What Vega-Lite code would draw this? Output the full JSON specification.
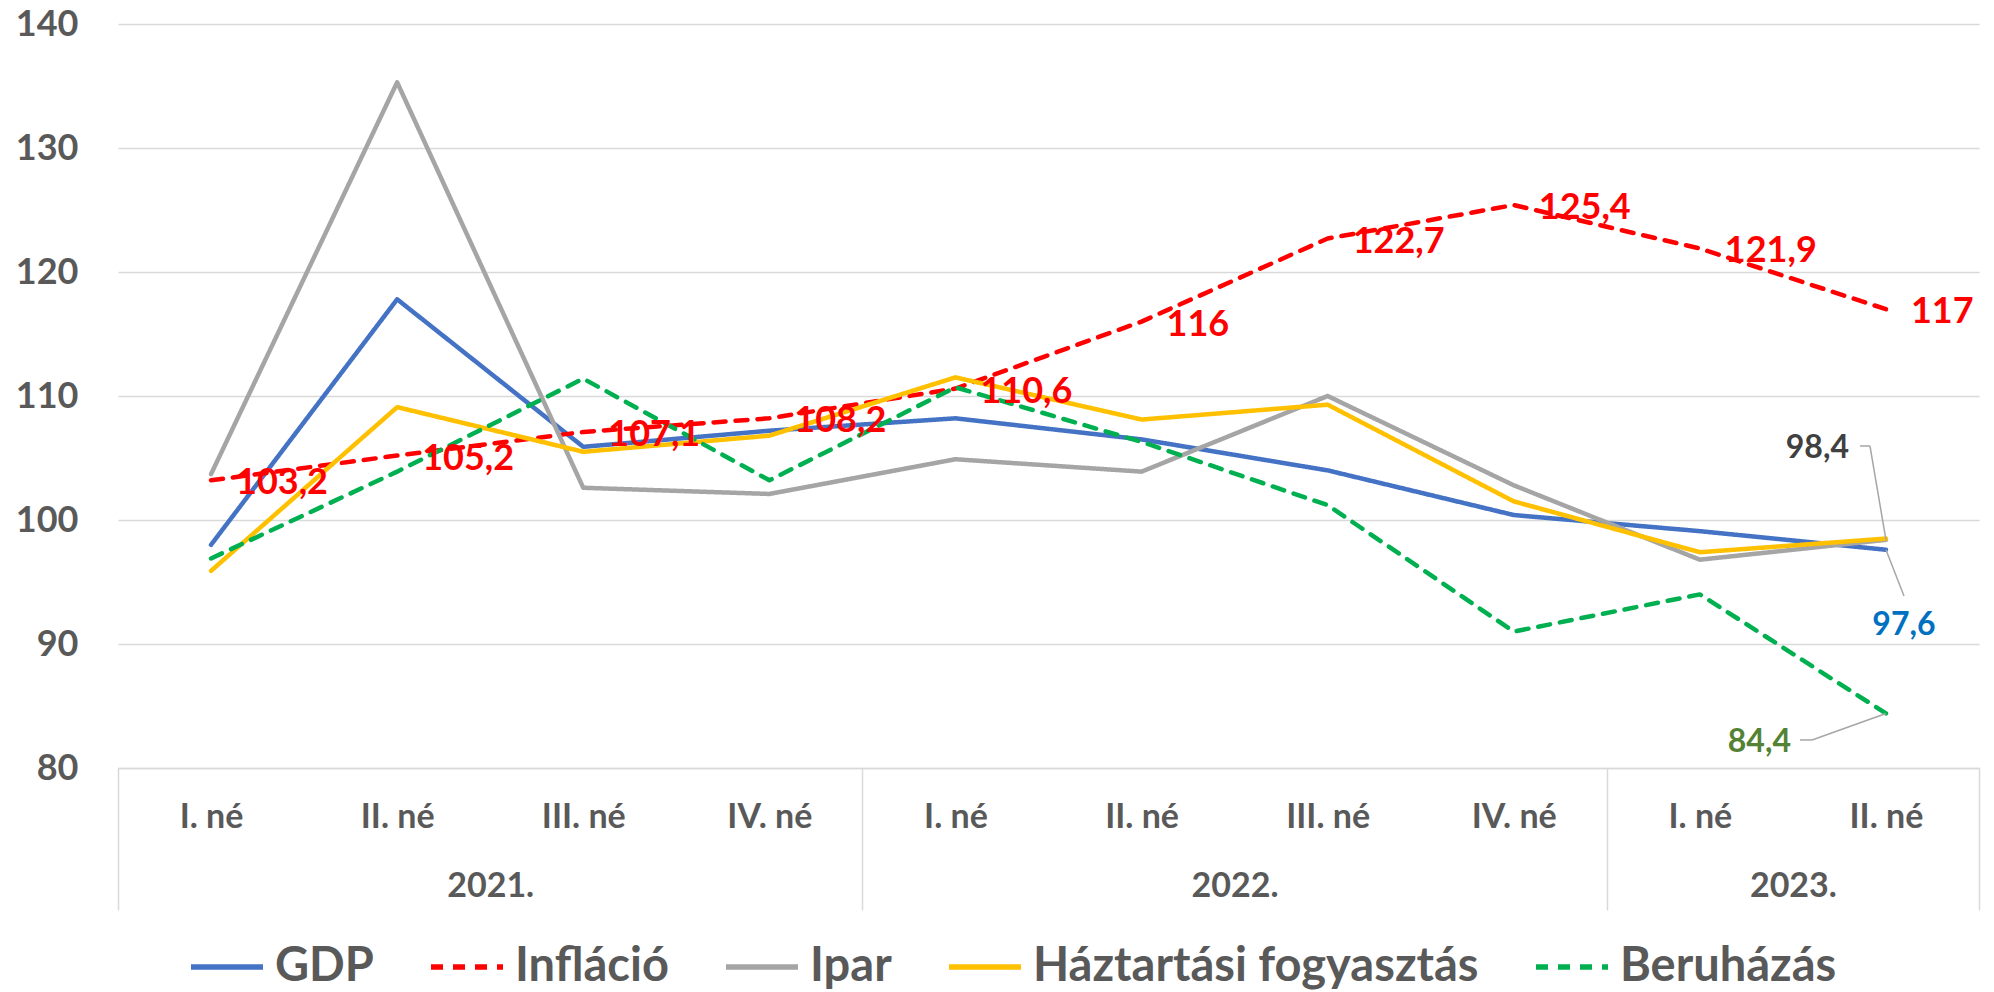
{
  "$schema": "https://vega.github.io/schema/vega-lite/v6.json",
  "width": 1861,
  "height": 744,
  "autosize": {"type": "none"},
  "padding": {"left": 118, "top": 24, "right": 15, "bottom": 224},
  "background": "white",
  "config": {
    "view": {"stroke": null},
    "font": "Lato",
    "text": {"font": "Lato"}
  },
  "data": {
    "values": [
      {"i": 0, "year": "2021.", "q": "I. né", "series": "GDP", "value": 98.0},
      {"i": 1, "year": "2021.", "q": "II. né", "series": "GDP", "value": 117.8},
      {"i": 2, "year": "2021.", "q": "III. né", "series": "GDP", "value": 105.9},
      {"i": 3, "year": "2021.", "q": "IV. né", "series": "GDP", "value": 107.2},
      {"i": 4, "year": "2022.", "q": "I. né", "series": "GDP", "value": 108.2},
      {"i": 5, "year": "2022.", "q": "II. né", "series": "GDP", "value": 106.5},
      {"i": 6, "year": "2022.", "q": "III. né", "series": "GDP", "value": 104.0},
      {"i": 7, "year": "2022.", "q": "IV. né", "series": "GDP", "value": 100.4},
      {"i": 8, "year": "2023.", "q": "I. né", "series": "GDP", "value": 99.1},
      {"i": 9, "year": "2023.", "q": "II. né", "series": "GDP", "value": 97.6},
      {"i": 0, "year": "2021.", "q": "I. né", "series": "Infláció", "value": 103.2},
      {"i": 1, "year": "2021.", "q": "II. né", "series": "Infláció", "value": 105.2},
      {"i": 2, "year": "2021.", "q": "III. né", "series": "Infláció", "value": 107.1},
      {"i": 3, "year": "2021.", "q": "IV. né", "series": "Infláció", "value": 108.2},
      {"i": 4, "year": "2022.", "q": "I. né", "series": "Infláció", "value": 110.6},
      {"i": 5, "year": "2022.", "q": "II. né", "series": "Infláció", "value": 116},
      {"i": 6, "year": "2022.", "q": "III. né", "series": "Infláció", "value": 122.7},
      {"i": 7, "year": "2022.", "q": "IV. né", "series": "Infláció", "value": 125.4},
      {"i": 8, "year": "2023.", "q": "I. né", "series": "Infláció", "value": 121.9},
      {"i": 9, "year": "2023.", "q": "II. né", "series": "Infláció", "value": 117},
      {"i": 0, "year": "2021.", "q": "I. né", "series": "Ipar", "value": 103.7},
      {"i": 1, "year": "2021.", "q": "II. né", "series": "Ipar", "value": 135.3},
      {"i": 2, "year": "2021.", "q": "III. né", "series": "Ipar", "value": 102.6},
      {"i": 3, "year": "2021.", "q": "IV. né", "series": "Ipar", "value": 102.1},
      {"i": 4, "year": "2022.", "q": "I. né", "series": "Ipar", "value": 104.9},
      {"i": 5, "year": "2022.", "q": "II. né", "series": "Ipar", "value": 103.9},
      {"i": 6, "year": "2022.", "q": "III. né", "series": "Ipar", "value": 110.0},
      {"i": 7, "year": "2022.", "q": "IV. né", "series": "Ipar", "value": 102.8},
      {"i": 8, "year": "2023.", "q": "I. né", "series": "Ipar", "value": 96.8},
      {"i": 9, "year": "2023.", "q": "II. né", "series": "Ipar", "value": 98.4},
      {"i": 0, "year": "2021.", "q": "I. né", "series": "Háztartási fogyasztás", "value": 95.9},
      {"i": 1, "year": "2021.", "q": "II. né", "series": "Háztartási fogyasztás", "value": 109.1},
      {"i": 2, "year": "2021.", "q": "III. né", "series": "Háztartási fogyasztás", "value": 105.5},
      {"i": 3, "year": "2021.", "q": "IV. né", "series": "Háztartási fogyasztás", "value": 106.8},
      {"i": 4, "year": "2022.", "q": "I. né", "series": "Háztartási fogyasztás", "value": 111.5},
      {"i": 5, "year": "2022.", "q": "II. né", "series": "Háztartási fogyasztás", "value": 108.1},
      {"i": 6, "year": "2022.", "q": "III. né", "series": "Háztartási fogyasztás", "value": 109.3},
      {"i": 7, "year": "2022.", "q": "IV. né", "series": "Háztartási fogyasztás", "value": 101.5},
      {"i": 8, "year": "2023.", "q": "I. né", "series": "Háztartási fogyasztás", "value": 97.4},
      {"i": 9, "year": "2023.", "q": "II. né", "series": "Háztartási fogyasztás", "value": 98.5},
      {"i": 0, "year": "2021.", "q": "I. né", "series": "Beruházás", "value": 96.9},
      {"i": 1, "year": "2021.", "q": "II. né", "series": "Beruházás", "value": 103.9},
      {"i": 2, "year": "2021.", "q": "III. né", "series": "Beruházás", "value": 111.4},
      {"i": 3, "year": "2021.", "q": "IV. né", "series": "Beruházás", "value": 103.2},
      {"i": 4, "year": "2022.", "q": "I. né", "series": "Beruházás", "value": 110.7},
      {"i": 5, "year": "2022.", "q": "II. né", "series": "Beruházás", "value": 106.3},
      {"i": 6, "year": "2022.", "q": "III. né", "series": "Beruházás", "value": 101.2},
      {"i": 7, "year": "2022.", "q": "IV. né", "series": "Beruházás", "value": 91.0},
      {"i": 8, "year": "2023.", "q": "I. né", "series": "Beruházás", "value": 94.0},
      {"i": 9, "year": "2023.", "q": "II. né", "series": "Beruházás", "value": 84.4}
    ]
  },
  "layer": [
    {
      "mark": {"type": "line", "strokeWidth": 4.5, "strokeCap": "round", "strokeJoin": "round"},
      "encoding": {
        "x": {
          "field": "i", "type": "quantitative", "title": null,
          "scale": {"domain": [-0.5, 9.5], "nice": false, "zero": false},
          "axis": {
            "orient": "bottom",
            "values": [0, 1, 2, 3, 4, 5, 6, 7, 8, 9],
            "labelExpr": "['I. né','II. né','III. né','IV. né','I. né','II. né','III. né','IV. né','I. né','II. né'][datum.value]",
            "grid": false, "ticks": false, "tickSize": 0,
            "domain": true, "domainColor": "#d9d9d9", "domainWidth": 1.5,
            "labelFont": "Lato", "labelFontSize": 34, "labelFontWeight": "bold", "labelColor": "#595959",
            "labelBaseline": "middle", "labelPadding": 49,
            "labelFlush": false, "labelOverlap": false, "labelBound": false, "title": null
          }
        },
        "y": {
          "field": "value", "type": "quantitative", "title": null,
          "scale": {"domain": [80, 140], "nice": false, "zero": false},
          "axis": {
            "values": [80, 90, 100, 110, 120, 130, 140],
            "grid": true, "gridColor": "#d9d9d9", "gridWidth": 1.5,
            "domain": false, "ticks": false, "tickSize": 0,
            "labelFont": "Lato", "labelFontSize": 36, "labelFontWeight": "bold", "labelColor": "#595959",
            "labelPadding": 40, "title": null
          }
        },
        "color": {
          "field": "series", "type": "nominal",
          "scale": {
            "domain": ["GDP", "Infláció", "Ipar", "Háztartási fogyasztás", "Beruházás"],
            "range": ["#4472C4", "#FF0000", "#A5A5A5", "#FFC000", "#00B050"]
          },
          "legend": {
            "title": null, "orient": "none", "legendX": 70, "legendY": 904,
            "direction": "horizontal", "columns": 5,
            "symbolType": "stroke", "symbolSize": 5184, "symbolStrokeWidth": 5.5,
            "labelFont": "Lato", "labelFontSize": 47, "labelFontWeight": "bold", "labelColor": "#595959",
            "columnPadding": 46, "labelOffset": 9, "padding": 0, "labelLimit": 0
          }
        },
        "strokeDash": {
          "field": "series", "type": "nominal",
          "scale": {
            "domain": ["GDP", "Infláció", "Ipar", "Háztartási fogyasztás", "Beruházás"],
            "range": [[1, 0], [12, 10], [1, 0], [1, 0], [12, 10]]
          },
          "legend": {
            "title": null, "orient": "none", "legendX": 70, "legendY": 904,
            "direction": "horizontal", "columns": 5,
            "symbolType": "stroke", "symbolSize": 5184, "symbolStrokeWidth": 5.5,
            "labelFont": "Lato", "labelFontSize": 47, "labelFontWeight": "bold", "labelColor": "#595959",
            "columnPadding": 46, "labelOffset": 9, "padding": 0, "labelLimit": 0
          }
        }
      }
    },
    {
      "transform": [{"filter": "datum.series === 'Infláció'"}],
      "mark": {
        "type": "text", "align": "left", "baseline": "middle", "dx": 25, "dy": 3,
        "font": "Lato", "fontSize": 36, "fontWeight": "bold", "color": "#FF0000",
        "text": {"expr": "replace(format(datum.value, '~g'), '.', ',')"}
      },
      "encoding": {
        "x": {
          "field": "i", "type": "quantitative", "title": null,
          "axis": {
            "orient": "bottom", "values": [-0.5, 3.5, 7.5, 9.5],
            "labels": false, "ticks": true, "tickSize": 142, "tickColor": "#d9d9d9", "tickWidth": 1.5,
            "domain": false, "grid": false, "title": null
          }
        },
        "y": {"field": "value", "type": "quantitative", "title": null}
      }
    },
    {
      "transform": [{"filter": "datum.series === 'Ipar' && datum.i === 9"}],
      "mark": {
        "type": "text", "align": "right", "baseline": "middle", "dx": -37, "dy": -92,
        "font": "Lato", "fontSize": 32, "fontWeight": "bold", "color": "#404040",
        "text": {"expr": "replace(format(datum.value, '~g'), '.', ',')"}
      },
      "encoding": {
        "x": {
          "field": "i", "type": "quantitative", "title": null,
          "axis": {
            "orient": "bottom", "values": [1.5, 5.5, 8.5],
            "labelExpr": "datum.value < 3 ? '2021.' : datum.value < 7 ? '2022.' : '2023.'",
            "grid": false, "ticks": false, "tickSize": 0, "domain": false,
            "labelFont": "Lato", "labelFontSize": 34, "labelFontWeight": "bold", "labelColor": "#595959",
            "labelBaseline": "middle", "labelPadding": 118,
            "labelFlush": false, "labelOverlap": false, "labelBound": false, "title": null
          }
        },
        "y": {"field": "value", "type": "quantitative", "title": null}
      }
    },
    {
      "transform": [{"filter": "datum.series === 'GDP' && datum.i === 9"}],
      "mark": {
        "type": "text", "align": "center", "baseline": "middle", "dx": 18, "dy": 75,
        "font": "Lato", "fontSize": 32, "fontWeight": "bold", "color": "#0070C0",
        "text": {"expr": "replace(format(datum.value, '~g'), '.', ',')"}
      },
      "encoding": {
        "x": {"field": "i", "type": "quantitative", "title": null, "axis": null},
        "y": {"field": "value", "type": "quantitative", "title": null}
      }
    },
    {
      "transform": [{"filter": "datum.series === 'Beruházás' && datum.i === 9"}],
      "mark": {
        "type": "text", "align": "right", "baseline": "middle", "dx": -95, "dy": 29,
        "font": "Lato", "fontSize": 32, "fontWeight": "bold", "color": "#548235",
        "text": {"expr": "replace(format(datum.value, '~g'), '.', ',')"}
      },
      "encoding": {
        "x": {"field": "i", "type": "quantitative", "title": null, "axis": null},
        "y": {"field": "value", "type": "quantitative", "title": null}
      }
    },
    {
      "transform": [{"filter": "datum.series === 'Ipar' && datum.i === 9"}],
      "mark": {"type": "rule", "color": "#A6A6A6", "strokeWidth": 1.5},
      "encoding": {
        "x": {"field": "i", "type": "quantitative", "title": null, "axis": null},
        "y": {"field": "value", "type": "quantitative", "title": null},
        "x2": {"datum": 8.914},
        "y2": {"datum": 105.97}
      }
    },
    {
      "transform": [{"filter": "datum.series === 'Ipar' && datum.i === 9"}],
      "mark": {"type": "rule", "color": "#A6A6A6", "strokeWidth": 1.5},
      "encoding": {
        "x": {"datum": 8.861, "type": "quantitative", "title": null, "axis": null},
        "x2": {"datum": 8.914},
        "y": {"datum": 105.97, "type": "quantitative", "title": null}
      }
    },
    {
      "transform": [{"filter": "datum.series === 'GDP' && datum.i === 9"}],
      "mark": {"type": "rule", "color": "#A6A6A6", "strokeWidth": 1.5},
      "encoding": {
        "x": {"field": "i", "type": "quantitative", "title": null, "axis": null},
        "y": {"field": "value", "type": "quantitative", "title": null},
        "x2": {"datum": 9.097},
        "y2": {"datum": 93.87}
      }
    },
    {
      "transform": [{"filter": "datum.series === 'Beruházás' && datum.i === 9"}],
      "mark": {"type": "rule", "color": "#A6A6A6", "strokeWidth": 1.5},
      "encoding": {
        "x": {"field": "i", "type": "quantitative", "title": null, "axis": null},
        "y": {"field": "value", "type": "quantitative", "title": null},
        "x2": {"datum": 8.603},
        "y2": {"datum": 82.26}
      }
    },
    {
      "transform": [{"filter": "datum.series === 'Beruházás' && datum.i === 9"}],
      "mark": {"type": "rule", "color": "#A6A6A6", "strokeWidth": 1.5},
      "encoding": {
        "x": {"datum": 8.538, "type": "quantitative", "title": null, "axis": null},
        "x2": {"datum": 8.603},
        "y": {"datum": 82.26, "type": "quantitative", "title": null}
      }
    }
  ],
  "resolve": {"axis": {"x": "independent"}}
}
